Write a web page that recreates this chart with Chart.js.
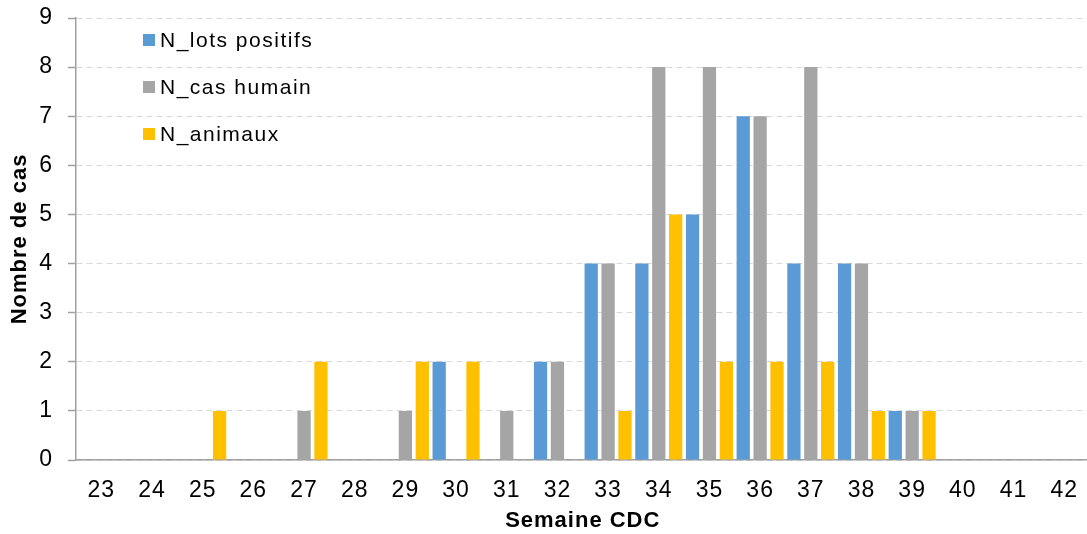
<!DOCTYPE html>
<html>
<head>
<meta charset="utf-8">
<script src="https://cdn.jsdelivr.net/npm/chart.js@4.4.1/dist/chart.umd.min.js"></script>
<style>
  html, body { margin: 0; padding: 0; background: #fff; overflow: hidden; width: 1087px; height: 534px; }
  canvas { display: block; }
</style>
</head>
<body>
<canvas id="c" width="1094" height="534"></canvas>
<script>
const weeks = ['23','24','25','26','27','28','29','30','31','32','33','34','35','36','37','38','39','40','41','42'];
const lotsPositifs = [0,0,0,0,0,0,0,2,0,2,4,4,5,7,4,4,1,0,0,0];
const casHumain    = [0,0,0,0,1,0,1,0,1,2,4,8,8,7,8,4,1,0,0,0];
const animaux      = [0,0,1,0,2,0,2,2,0,0,1,5,2,2,2,1,1,0,0,0];
const seriesNames  = ['N_lots positifs','N_cas humain','N_animaux'];
const seriesColors = ['#5B9BD5','#A5A5A5','#FFC000'];
const yTicks = [0,1,2,3,4,5,6,7,8,9];

const FONT = '"Liberation Sans", Arial, Helvetica, sans-serif';

const spacingPlugin = {
  id: 'spacing',
  beforeDraw(chart) { chart.ctx.letterSpacing = '1px'; }
};

const legendPlugin = {
  id: 'insideLegend',
  afterDraw(chart) {
    const ctx = chart.ctx;
    ctx.save();
    ctx.font = '21px ' + FONT;
    ctx.letterSpacing = '1.5px';
    ctx.textBaseline = 'middle';
    ctx.textAlign = 'left';
    chart.data.datasets.forEach((ds, i) => {
      const y = 40 + i * 47;
      ctx.fillStyle = ds.backgroundColor;
      ctx.fillRect(143, y - 6, 12, 12);
      ctx.fillStyle = '#000';
      ctx.fillText(ds.label, 160, y + 1);
    });
    ctx.restore();
  }
};

const datasets = [lotsPositifs, casHumain, animaux].map((d, i) => ({
  label: seriesNames[i],
  data: d,
  backgroundColor: seriesColors[i],
  borderWidth: 0,
  barPercentage: 0.785,
  categoryPercentage: 1.0
}));

new Chart(document.getElementById('c'), {
  type: 'bar',
  data: { labels: weeks, datasets },
  options: {
    responsive: false,
    animation: false,
    devicePixelRatio: 1,
    layout: { padding: { top: 0, right: 1, left: 0, bottom: 0 } },
    plugins: { legend: { display: false }, tooltip: { enabled: false } },
    scales: {
      x: {
        afterFit: s => { s.height = 74; },
        grid: { display: true, drawOnChartArea: false, drawTicks: false },
        border: { display: true, color: '#a0a0a0', width: 1.5 },
        ticks: { color: '#000', font: { family: FONT, size: 23 }, padding: 17, maxRotation: 0, autoSkip: false },
        title: { display: true, text: 'Semaine CDC', color: '#000', font: { family: FONT, size: 22, weight: 'bold' }, padding: { top: 0, bottom: 0 } }
      },
      y: {
        min: 0, max: 9,
        afterFit: s => { s.width = 76; s.paddingTop = 18; s.paddingBottom = 0; },
        afterBuildTicks: s => { s.ticks = yTicks.map(v => ({ value: v })); },
        grid: { color: '#d9d9d9', lineWidth: 1, tickLength: 8, tickColor: '#a0a0a0', tickWidth: 1.5, tickBorderDash: [] },
        border: { display: true, color: '#a0a0a0', width: 1.5, dash: [6, 4] },
        ticks: { color: '#000', font: { family: FONT, size: 23 }, padding: 15, stepSize: 1 },
        title: { display: true, text: 'Nombre de cas', color: '#000', font: { family: FONT, size: 22, weight: 'bold' }, padding: { top: 7, bottom: 0 } }
      }
    }
  },
  plugins: [spacingPlugin, legendPlugin]
});
</script>
</body>
</html>
